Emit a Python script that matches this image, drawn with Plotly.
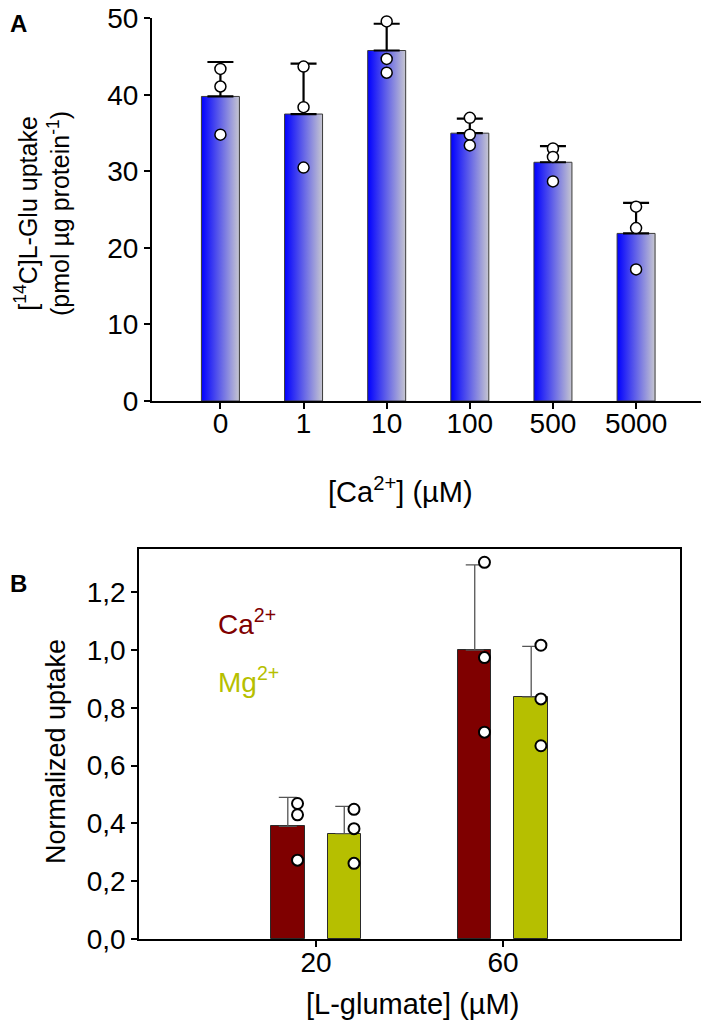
import plotly.graph_objects as go

# browser page has an 8px body margin: figure is sized/positioned to compensate
PAD = 8
W, H = 709 - PAD, 1031 - PAD

# ---------------- Panel A data ----------------
ca_labels = ["0", "1", "10", "100", "500", "5000"]
a_means = [39.8, 37.5, 45.8, 35.0, 31.2, 21.9]
a_sd = [4.5, 6.6, 3.5, 1.9, 2.1, 4.0]
a_points = [
    [43.4, 41.1, 34.8],
    [43.7, 38.4, 30.5],
    [49.6, 44.7, 42.9],
    [37.0, 34.8, 33.4],
    [33.0, 31.9, 28.7],
    [25.4, 22.6, 17.2],
]
a_yticks = [0, 10, 20, 30, 40, 50]

# ---------------- Panel B data ----------------
glu_labels = ["20", "60"]
ca_means = [0.39, 1.0]
ca_sd = [0.10, 0.295]
ca_points = [[0.469, 0.43, 0.273], [1.304, 0.974, 0.716]]
mg_means = [0.365, 0.838]
mg_sd = [0.094, 0.175]
mg_points = [[0.449, 0.382, 0.262], [1.017, 0.831, 0.669]]
b_yticks = [0.0, 0.2, 0.4, 0.6, 0.8, 1.0, 1.2]
b_yticktext = ["0,0", "0,2", "0,4", "0,6", "0,8", "1,0", "1,2"]

FONT = "Liberation Sans, Arial, sans-serif"
CA_COLOR = "#7f0000"
MG_COLOR = "#b6bf00"


def fx(x):
    return (x - PAD) / W


def fy(y):
    return 1 - (y - PAD) / H


fig = go.Figure()

# ---- Panel A bars (gradient filled rectangles) ----
BW_A = 0.457
for i, m in enumerate(a_means):
    x0, x1 = i - BW_A / 2, i + BW_A / 2
    fig.add_trace(go.Scatter(
        x=[x0, x1, x1, x0, x0], y=[0, 0, m, m, 0],
        mode="lines", fill="toself",
        fillgradient=dict(type="horizontal",
                          colorscale=[[0, "#0000ff"], [1, "#c6c6d0"]]),
        line=dict(color="#3a3a3a", width=1),
        hoverinfo="skip", showlegend=False, xaxis="x", yaxis="y"))

# error bars A
fig.add_trace(go.Scatter(
    x=list(range(len(a_means))), y=a_means, mode="markers",
    marker=dict(size=2, opacity=0),
    error_y=dict(type="data", symmetric=False, array=a_sd,
                 arrayminus=[0] * len(a_sd), color="black",
                 thickness=2.2, width=13),
    hoverinfo="skip", showlegend=False, xaxis="x", yaxis="y"))

# points A
px, py = [], []
for i, pts in enumerate(a_points):
    for v in pts:
        px.append(i)
        py.append(v)
fig.add_trace(go.Scatter(
    x=px, y=py, mode="markers",
    marker=dict(size=11, color="white", line=dict(color="black", width=1.5)),
    cliponaxis=False, hoverinfo="skip", showlegend=False,
    xaxis="x", yaxis="y"))

# ---- Panel B bars ----
OFF_B = 0.151
BW_B = 0.179
PT_OFF = 0.052
for means, sds, pts, col, sgn in [
    (ca_means, ca_sd, ca_points, CA_COLOR, -1),
    (mg_means, mg_sd, mg_points, MG_COLOR, 1),
]:
    xs = [k + 1 + sgn * OFF_B for k in range(len(means))]
    fig.add_trace(go.Bar(
        x=xs, y=means, width=BW_B,
        marker=dict(color=col, line=dict(color="#2a2a2a", width=1)),
        error_y=dict(type="data", symmetric=False, array=sds,
                     arrayminus=[0] * len(sds), color="#555555",
                     thickness=1.3, width=9),
        hoverinfo="skip", showlegend=False, xaxis="x2", yaxis="y2"))
    qx, qy = [], []
    for k, p in enumerate(pts):
        for v in p:
            qx.append(xs[k] + PT_OFF)
            qy.append(v)
    fig.add_trace(go.Scatter(
        x=qx, y=qy, mode="markers",
        marker=dict(size=11, color="white", line=dict(color="black", width=2)),
        cliponaxis=False, hoverinfo="skip", showlegend=False,
        xaxis="x2", yaxis="y2"))

tickfont = dict(family=FONT, size=28, color="black")

fig.update_layout(
    width=W, height=H,
    margin=dict(l=0, r=0, t=0, b=0, autoexpand=False),
    paper_bgcolor="white", plot_bgcolor="white",
    font=dict(family=FONT, color="black"),
    xaxis=dict(domain=[fx(152), fx(703)], range=[-0.823, 5.805],
               tickvals=list(range(len(ca_labels))), ticktext=ca_labels,
               ticks="outside", ticklen=6, tickwidth=1.5, tickcolor="black",
               ticklabelstandoff=-10, automargin=False,
               showline=True, linecolor="black", linewidth=2,
               showgrid=False, zeroline=False, tickfont=tickfont, anchor="y"),
    yaxis=dict(domain=[fy(401), fy(18)], range=[0, 50.05],
               tickvals=a_yticks, ticks="outside", ticklen=6, tickwidth=1.5,
               tickcolor="black", showline=True, linecolor="black",
               linewidth=2, showgrid=False, zeroline=False, automargin=False,
               ticklabeloverflow="allow",
               tickfont=tickfont, anchor="x"),
    xaxis2=dict(domain=[fx(139), fx(680)], range=[0.053, 2.947],
                tickvals=[1, 2], ticktext=glu_labels,
                ticks="outside", ticklen=6, tickwidth=1.5, tickcolor="black",
                ticklabelstandoff=-8, automargin=False,
                showline=True, linecolor="black", linewidth=1.5, mirror=True,
                showgrid=False, zeroline=False, tickfont=tickfont,
                anchor="y2"),
    yaxis2=dict(domain=[fy(939), fy(549)], range=[0, 1.35],
                tickvals=b_yticks, ticktext=b_yticktext, automargin=False,
                ticks="outside", ticklen=6, tickwidth=1.5, tickcolor="black",
                showline=True, linecolor="black", linewidth=1.5, mirror=True,
                showgrid=False, zeroline=False, tickfont=tickfont,
                anchor="x2"),
    bargap=0,
)


def ann(text, x, y, size, color="black", angle=0, bold=False,
        xanchor="center", yanchor="middle"):
    if bold:
        text = "<b>" + text + "</b>"
    fig.add_annotation(text=text, x=fx(x), y=fy(y), xref="paper",
                       yref="paper", showarrow=False, textangle=angle,
                       xanchor=xanchor, yanchor=yanchor,
                       font=dict(family=FONT, size=size, color=color))


ann("A", 18, 8, 24, bold=True, yanchor="top")
ann("B", 18, 583, 24, bold=True)
ann("[<sup>14</sup>C]L-Glu uptake<br>(pmol µg protein<sup>-1</sup>)", 8, 214, 25,
    angle=-90, xanchor="left")
ann("[Ca<sup>2+</sup>] (µM)", 400, 490, 29)
ann("Normalized uptake", 56, 752, 27, angle=-90)
ann("[L-glumate] (µM)", 412, 1004, 29)
ann("Ca<sup>2+</sup>", 216, 622, 28, color=CA_COLOR, xanchor="left")
ann("Mg<sup>2+</sup>", 216, 680, 28, color=MG_COLOR, xanchor="left")

fig.write_html("out.html")
